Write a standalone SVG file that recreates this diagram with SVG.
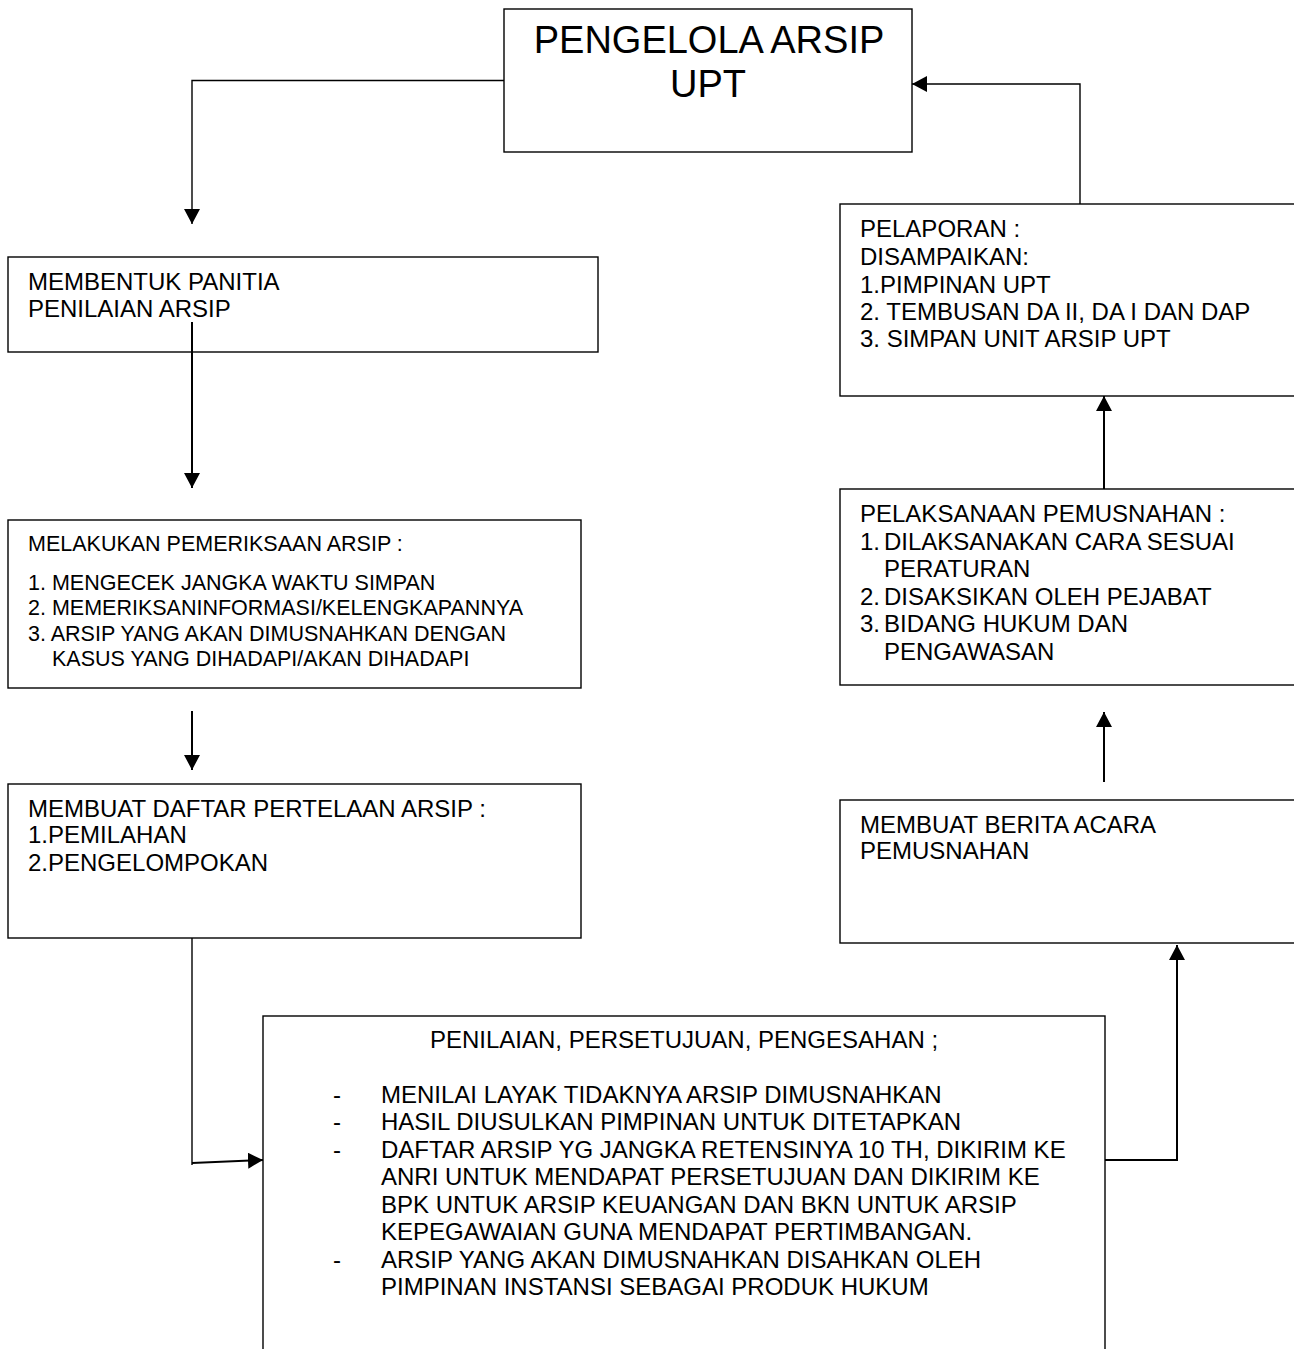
<svg xmlns="http://www.w3.org/2000/svg" width="1294" height="1349" viewBox="0 0 1294 1349">
<style>
.box{fill:#fff;stroke:#000;stroke-width:1.4}
text{font-family:"Liberation Sans",Arial,sans-serif;fill:#000}
.t24{font-size:24px}
.t21{font-size:21.5px}
.t38{font-size:38px}
.c{fill:none;stroke:#000;stroke-width:2}
.thin{stroke-width:1.4}
</style>
<defs>
<marker id="a" viewBox="0 0 15 16" refX="15" refY="8" markerWidth="15" markerHeight="16" markerUnits="userSpaceOnUse" orient="auto">
<path d="M0,0 L15,8 L0,16 z" fill="#000"/>
</marker>
</defs>
<rect width="1294" height="1349" fill="#fff"/>
<g id="n1">
<rect class="box" x="504" y="9" width="408" height="143"/>
<text class="t38" x="709" y="53" text-anchor="middle">PENGELOLA ARSIP</text>
<text class="t38" x="708" y="97" text-anchor="middle">UPT</text>
</g>
<g id="n2">
<rect class="box" x="8" y="257" width="590" height="95"/>
<text class="t24" x="28" y="290">MEMBENTUK PANITIA</text>
<text class="t24" x="28" y="317">PENILAIAN ARSIP</text>
</g>
<g id="n3">
<rect class="box" x="8" y="520" width="573" height="168"/>
<text class="t21" x="28" y="551">MELAKUKAN PEMERIKSAAN ARSIP :</text>
<text class="t21" x="28" y="590">1. MENGECEK JANGKA WAKTU SIMPAN</text>
<text class="t21" x="28" y="615">2. MEMERIKSANINFORMASI/KELENGKAPANNYA</text>
<text class="t21" x="28" y="641">3. ARSIP YANG AKAN DIMUSNAHKAN DENGAN</text>
<text class="t21" x="52" y="666">KASUS YANG DIHADAPI/AKAN DIHADAPI</text>
</g>
<g id="n4">
<rect class="box" x="8" y="784" width="573" height="154"/>
<text class="t24" x="28" y="817">MEMBUAT DAFTAR PERTELAAN ARSIP :</text>
<text class="t24" x="28" y="843">1.PEMILAHAN</text>
<text class="t24" x="28" y="871">2.PENGELOMPOKAN</text>
</g>
<g id="n5">
<rect class="box" x="263" y="1016" width="842" height="345"/>
<text class="t24" x="684" y="1048" text-anchor="middle">PENILAIAN, PERSETUJUAN, PENGESAHAN ;</text>
<g class="t24">
<text x="333" y="1103">-</text>
<text x="381" y="1103">MENILAI LAYAK TIDAKNYA ARSIP DIMUSNAHKAN</text>
<text x="333" y="1130">-</text>
<text x="381" y="1130">HASIL DIUSULKAN PIMPINAN UNTUK DITETAPKAN</text>
<text x="333" y="1158">-</text>
<text x="381" y="1158">DAFTAR ARSIP YG JANGKA RETENSINYA 10 TH, DIKIRIM KE</text>
<text x="381" y="1185">ANRI UNTUK MENDAPAT PERSETUJUAN DAN DIKIRIM KE</text>
<text x="381" y="1213">BPK UNTUK ARSIP KEUANGAN DAN BKN UNTUK ARSIP</text>
<text x="381" y="1240">KEPEGAWAIAN GUNA MENDAPAT PERTIMBANGAN.</text>
<text x="333" y="1268">-</text>
<text x="381" y="1268">ARSIP YANG AKAN DIMUSNAHKAN DISAHKAN OLEH</text>
<text x="381" y="1295">PIMPINAN INSTANSI SEBAGAI PRODUK HUKUM</text>
</g>
</g>
<g id="n6">
<rect class="box" x="840" y="800" width="470" height="143"/>
<text class="t24" x="860" y="833">MEMBUAT BERITA ACARA</text>
<text class="t24" x="860" y="859">PEMUSNAHAN</text>
</g>
<g id="n7">
<rect class="box" x="840" y="489" width="470" height="196"/>
<text class="t24" x="860" y="522">PELAKSANAAN PEMUSNAHAN :</text>
<text class="t24" x="860" y="550">1.</text>
<text class="t24" x="884" y="550">DILAKSANAKAN CARA SESUAI</text>
<text class="t24" x="884" y="577">PERATURAN</text>
<text class="t24" x="860" y="605">2.</text>
<text class="t24" x="884" y="605">DISAKSIKAN OLEH PEJABAT</text>
<text class="t24" x="860" y="632">3.</text>
<text class="t24" x="884" y="632">BIDANG HUKUM DAN</text>
<text class="t24" x="884" y="660">PENGAWASAN</text>
</g>
<g id="n8">
<rect class="box" x="840" y="204" width="470" height="192"/>
<text class="t24" x="860" y="237">PELAPORAN :</text>
<text class="t24" x="860" y="265">DISAMPAIKAN:</text>
<text class="t24" x="860" y="293">1.PIMPINAN UPT</text>
<text class="t24" x="860" y="320">2. TEMBUSAN DA II, DA I DAN DAP</text>
<text class="t24" x="860" y="347">3. SIMPAN UNIT ARSIP UPT</text>
</g>
<g id="connectors">
<path class="c thin" d="M504,80.5 H192 V224" marker-end="url(#a)"/>
<path class="c" d="M192,322 V488" marker-end="url(#a)"/>
<path class="c" d="M192,711 V770" marker-end="url(#a)"/>
<path class="c thin" d="M192,938 V1165"/>
<path class="c" d="M192,1163 L263,1160" marker-end="url(#a)"/>
<path class="c" d="M1105,1160 H1177 V945" marker-end="url(#a)"/>
<path class="c" d="M1104,782 V712" marker-end="url(#a)"/>
<path class="c" d="M1104,489 V396" marker-end="url(#a)"/>
<path class="c thin" d="M1080,204 V84 H912" marker-end="url(#a)"/>
</g>
</svg>
